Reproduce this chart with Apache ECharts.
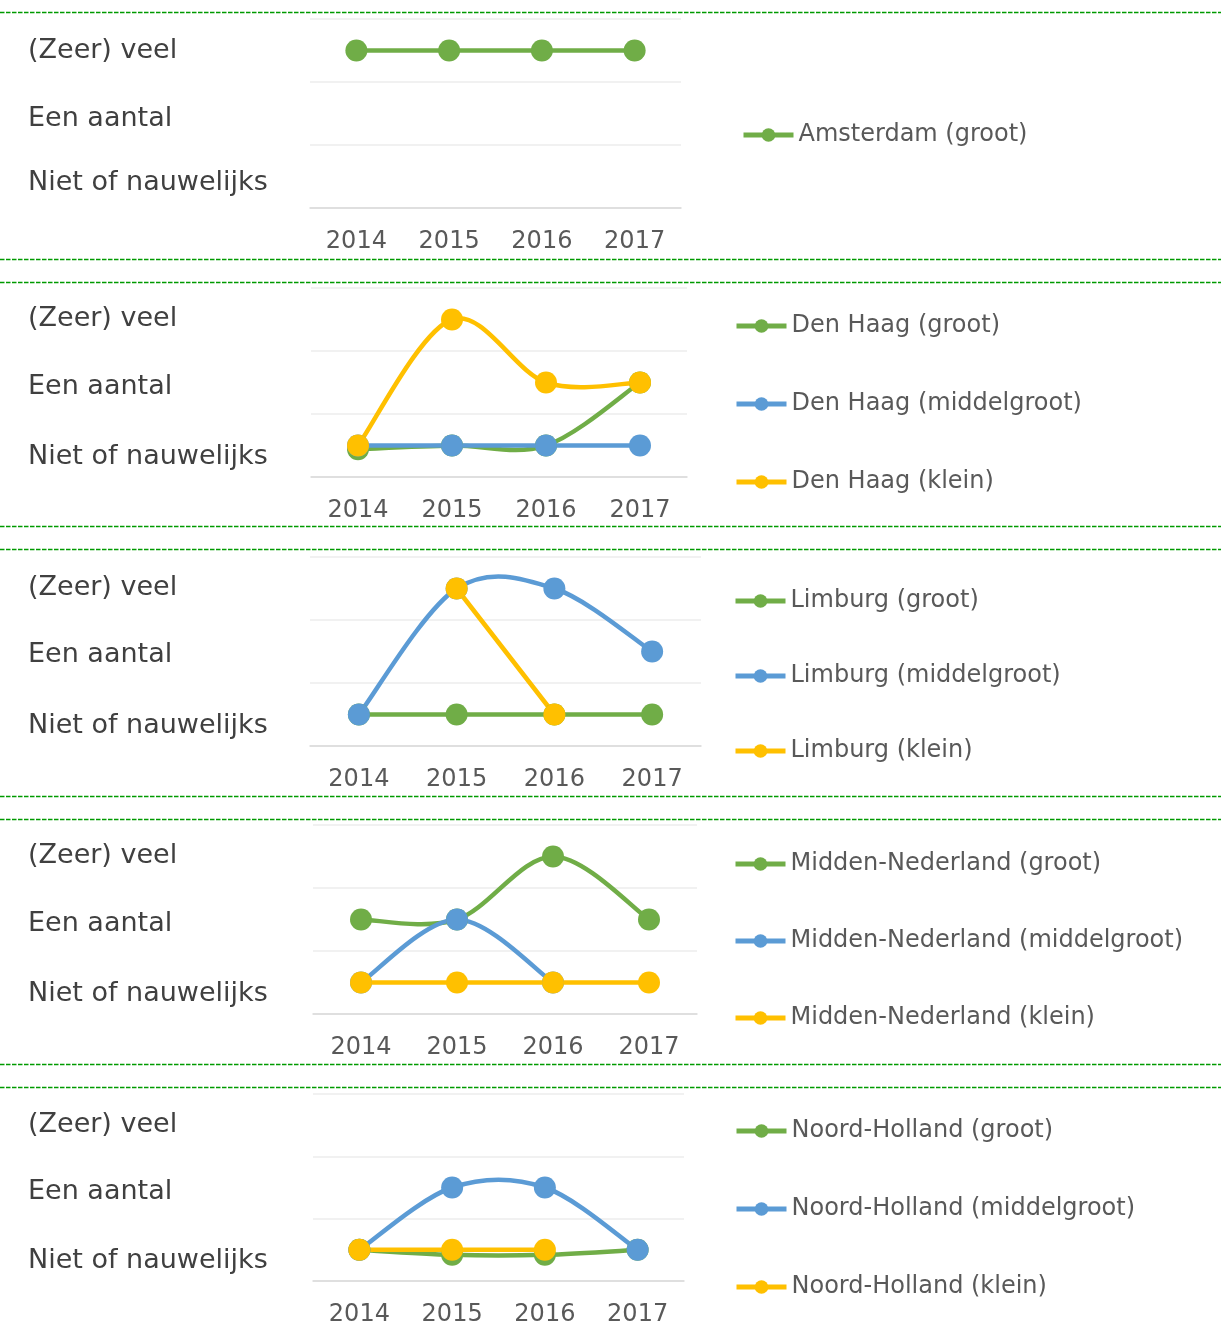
<!DOCTYPE html>
<html>
<head>
<meta charset="utf-8">
<script src="https://cdn.jsdelivr.net/npm/echarts@6/dist/echarts.min.js"></script>
<style>
  html, body { margin: 0; padding: 0; background: #fff; }
  #chart { width: 1221px; height: 1327px; }
</style>
</head>
<body>
<div id="chart"></div>
<script>
// data
const years = ['2014', '2015', '2016', '2017']
const levels = ['Niet of nauwelijks', 'Een aantal', '(Zeer) veel'] // 0.5, 1.5, 2.5

const amsterdamGroot = [2.5, 2.5, 2.5, 2.5]

const denHaagGroot = [0.44, 0.5, 0.5, 1.5]
const denHaagMiddel = [0.5, 0.5, 0.5, 0.5]
const denHaagKlein = [0.5, 2.5, 1.5, 1.5]

const limburgGroot = [0.5, 0.5, 0.5, 0.5]
const limburgMiddel = [0.5, 2.5, 2.5, 1.5]
const limburgKlein = [null, 2.5, 0.5, null]

const middenGroot = [1.5, 1.5, 2.5, 1.5]
const middenMiddel = [0.5, 1.5, 0.5, null]
const middenKlein = [0.5, 0.5, 0.5, 0.5]

const noordGroot = [0.5, 0.42, 0.42, 0.5]
const noordMiddel = [0.5, 1.5, 1.5, 0.5]
const noordKlein = [0.5, 0.5, 0.5, null]

const GREEN = '#70ad47'
const BLUE = '#5b9bd5'
const YELLOW = '#ffc000'
const FONT = 'DejaVu Sans'

const panels = [
  { series: [['Amsterdam (groot)', amsterdamGroot, GREEN]],
    left: 310, width: 371, top: 19, legLeft: 741, legTop: 120, legGap: 48, off: [6.5, 5.5, 0.5] },
  { series: [['Den Haag (groot)', denHaagGroot, GREEN], ['Den Haag (middelgroot)', denHaagMiddel, BLUE], ['Den Haag (klein)', denHaagKlein, YELLOW]],
    left: 311, width: 376, top: 288, legLeft: 734, legTop: 311, legGap: 48, off: [11.5, 4.5, -0.5] },
  { series: [['Limburg (groot)', limburgGroot, GREEN], ['Limburg (middelgroot)', limburgMiddel, BLUE], ['Limburg (klein)', limburgKlein, YELLOW]],
    left: 310, width: 391, top: 557, legLeft: 733, legTop: 586, legGap: 45, off: [11.5, 3.5, -0.5] },
  { series: [['Midden-Nederland (groot)', middenGroot, GREEN], ['Midden-Nederland (middelgroot)', middenMiddel, BLUE], ['Midden-Nederland (klein)', middenKlein, YELLOW]],
    left: 313, width: 384, top: 825, legLeft: 733, legTop: 849, legGap: 47, off: [11.5, 4.5, -0.5] },
  { series: [['Noord-Holland (groot)', noordGroot, GREEN], ['Noord-Holland (middelgroot)', noordMiddel, BLUE], ['Noord-Holland (klein)', noordKlein, YELLOW]],
    left: 313, width: 371, top: 1094, legLeft: 734, legTop: 1116, legGap: 48, off: [11.5, 4.5, -0.5] },
]

const sepLines = [12, 259, 282, 526, 549, 796, 819, 1064, 1087]

// smooth curve like the spreadsheet does (curve may overshoot), one bezier per segment
function curveSeries(vals, color, xi, yi) {
  return {
    type: 'custom', xAxisIndex: xi, yAxisIndex: yi, silent: true,
    data: vals.map((v, j) => [j, v == null ? 0 : v]),
    renderItem: (params, api) => {
      const j = params.dataIndex
      if (j >= vals.length - 1 || vals[j] == null || vals[j + 1] == null) return null
      const p0 = api.coord([j, vals[j]])
      const p1 = api.coord([j + 1, vals[j + 1]])
      const pm = j > 0 && vals[j - 1] != null ? api.coord([j - 1, vals[j - 1]]) : p0
      const pn = j + 2 < vals.length && vals[j + 2] != null ? api.coord([j + 2, vals[j + 2]]) : p1
      return {
        type: 'bezierCurve',
        shape: {
          x1: p0[0], y1: p0[1], x2: p1[0], y2: p1[1],
          cpx1: p0[0] + (p1[0] - pm[0]) / 6, cpy1: p0[1] + (p1[1] - pm[1]) / 6,
          cpx2: p1[0] - (pn[0] - p0[0]) / 6, cpy2: p1[1] - (pn[1] - p0[1]) / 6,
        },
        style: { stroke: color, lineWidth: 4.5, fill: null },
      }
    },
  }
}

let grid = [], xAxis = [], yAxis = [], legend = [], series = []

panels.forEach((p, i) => {
  grid.push({ left: p.left, width: p.width, top: p.top, height: 189 })
  xAxis.push({
    type: 'category', gridIndex: i, data: years, boundaryGap: true,
    axisLine: { lineStyle: { color: '#d9d9d9', width: 1.5 } },
    axisTick: { show: false },
    axisLabel: { color: '#595959', fontSize: 24, fontFamily: FONT, margin: 22 },
  })
  // gridlines
  yAxis.push({
    type: 'value', gridIndex: i, min: 0, max: 3, interval: 1, position: 'left',
    axisLine: { show: false }, axisTick: { show: false }, axisLabel: { show: false },
    splitLine: { lineStyle: { color: '#ececec', width: 1.5 } },
  })
  // category text on the left
  let rich = {}
  p.off.forEach((o, k) => {
    rich['l' + k] = {
      fontSize: 27, fontFamily: FONT, color: '#404040',
      padding: o > 0 ? [2 * o, 0, 0, 0] : [0, 0, -2 * o, 0],
    }
  })
  yAxis.push({
    type: 'value', gridIndex: i, min: 0, max: 3, interval: 0.5, position: 'left',
    axisLine: { show: false }, axisTick: { show: false }, splitLine: { show: false },
    axisLabel: {
      align: 'left', margin: p.left - 28,
      fontSize: 27, fontFamily: FONT, color: '#404040',
      formatter: (v) => {
        const k = Math.round(v - 0.5)
        if (Math.abs(v - 0.5 - k) > 0.01 || k < 0 || k > 2) return ''
        return '{l' + k + '|' + levels[k] + '}'
      },
      rich: rich,
    },
  })
  legend.push({
    orient: 'vertical', left: p.legLeft, top: p.legTop, padding: 0,
    itemWidth: 50, itemHeight: 17, itemGap: p.legGap, selectedMode: false,
    data: p.series.map((s) => s[0]),
    lineStyle: { width: 5, opacity: 1 },
    textStyle: { fontSize: 24, color: '#595959', fontFamily: FONT, lineHeight: 30 },
  })
  p.series.forEach((s) => {
    series.push(curveSeries(s[1], s[2], i, 2 * i))
    series.push({
      type: 'line', name: s[0], data: s[1],
      xAxisIndex: i, yAxisIndex: 2 * i,
      symbol: 'circle', symbolSize: 22,
      lineStyle: { width: 4.5, color: s[2], opacity: 0 },
      itemStyle: { color: s[2] },
    })
  })
})

let myChart = echarts.init(document.getElementById('chart'))
myChart.setOption({
  animation: false,
  backgroundColor: '#fff',
  grid, xAxis, yAxis, legend, series,
  graphic: sepLines.map((y) => ({
    type: 'line', silent: true,
    shape: { x1: 0, y1: y + 0.5, x2: 1221, y2: y + 0.5 },
    style: { stroke: '#009a00', lineWidth: 1.5, lineDash: [4.5, 1.5] },
  })),
})
</script>
</body>
</html>
